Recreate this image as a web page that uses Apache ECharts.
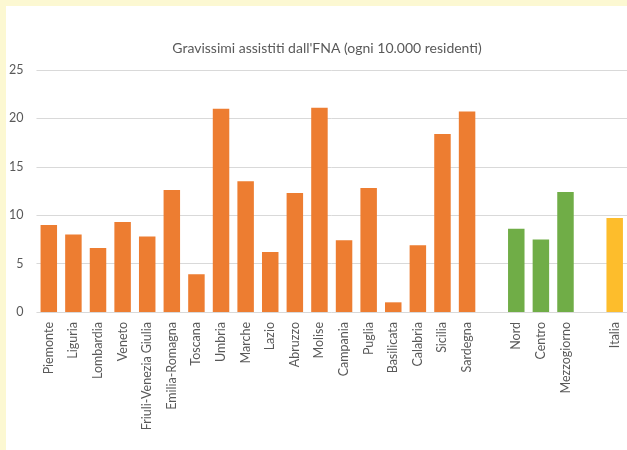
<!DOCTYPE html>
<html>
<head>
<meta charset="utf-8">
<script src="https://cdn.jsdelivr.net/npm/echarts@6/dist/echarts.min.js"></script>
<style>
  html, body { margin: 0; padding: 0; background: #FCF8D2; width: 627px; height: 450px; overflow: hidden; }
  #chart { position: absolute; left: 6px; top: 6px; width: 621px; height: 444px; background: #ffffff; }
</style>
</head>
<body>
<div id="chart"></div>
<script>
// Regioni
const regions = ['Piemonte', 'Liguria', 'Lombardia', 'Veneto', 'Friuli-Venezia Giulia', 'Emilia-Romagna',
  'Toscana', 'Umbria', 'Marche', 'Lazio', 'Abruzzo', 'Molise', 'Campania', 'Puglia', 'Basilicata',
  'Calabria', 'Sicilia', 'Sardegna'];
const regionValues = [9.0, 8.0, 6.6, 9.3, 7.8, 12.6, 3.9, 21.0, 13.5, 6.2, 12.3, 21.1, 7.4, 12.8, 1.0, 6.9, 18.4, 20.7];

// Ripartizioni
const macroAreas = ['Nord', 'Centro', 'Mezzogiorno'];
const macroValues = [8.6, 7.5, 12.4];

// Totale nazionale
const nationalLabel = 'Italia';
const nationalValue = 9.7;

const yTicks = [0, 5, 10, 15, 20, 25];

const COLOR_REGION = '#ED7D31';
const COLOR_MACRO = '#70AD47';
const COLOR_NATIONAL = '#FDBD2C';

// one empty slot separates each group on the category axis
const categories = [...regions, '', ...macroAreas, '', nationalLabel];
const barData = [
  ...regionValues.map(v => ({ value: v, itemStyle: { color: COLOR_REGION } })),
  null,
  ...macroValues.map(v => ({ value: v, itemStyle: { color: COLOR_MACRO } })),
  null,
  { value: nationalValue, itemStyle: { color: COLOR_NATIONAL } }
];

const FONT = 'Lato, "Open Sans", sans-serif';
const chart = echarts.init(document.getElementById('chart'));
chart.setOption({
  animation: false,
  title: {
    text: "Gravissimi assistiti dall'FNA (ogni 10.000 residenti)",
    left: 316, top: 30, textAlign: 'center',
    textStyle: { fontFamily: FONT, fontSize: 14, fontWeight: 'normal', color: '#595959' }
  },
  grid: { left: 29, top: 64, width: 595, height: 242 },
  xAxis: {
    type: 'category',
    data: categories,
    axisLine: { show: false },
    axisTick: { show: false },
    axisLabel: { rotate: 90, interval: 0, margin: 10, fontFamily: FONT, fontSize: 12.5, color: '#595959' }
  },
  yAxis: {
    type: 'value',
    min: yTicks[0], max: yTicks[yTicks.length - 1], interval: 5,
    axisLine: { show: false },
    axisTick: { show: false },
    axisLabel: { margin: 13, fontFamily: FONT, fontSize: 12.5, color: '#595959' },
    splitLine: { lineStyle: { color: '#D9D9D9', width: 1 } }
  },
  series: [{
    type: 'bar',
    data: barData,
    barCategoryGap: '33%'
  }]
});
</script>
</body>
</html>
